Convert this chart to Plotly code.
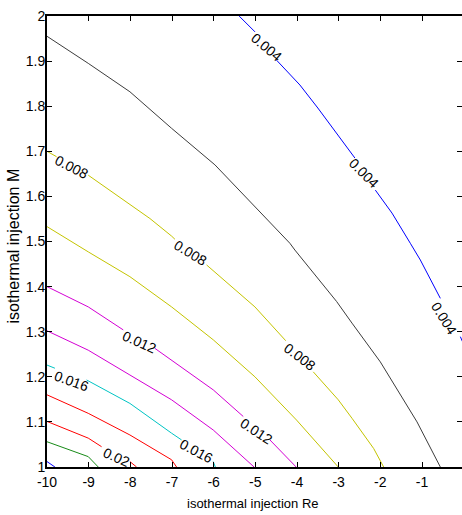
import plotly.graph_objects as go

# ---- data ----
# contour level values
levels = [0.004, 0.006, 0.008, 0.010, 0.012, 0.014, 0.016, 0.018, 0.020, 0.022, 0.024]

# contour polylines (None = break where an inline label sits)
x_004 = [-5.39, -5.01, None, -4.49, -3.93, -3.50, -3.05, -2.61, None, -2.12, -1.72, -1.28, -1.04, -0.56, None, -0.08, 0.0]
y_004 = [2.000, 1.965, None, 1.902, 1.847, 1.796, 1.740, 1.685, None, 1.614, 1.563, 1.496, 1.459, 1.374, None, 1.289, 1.272]

x_006 = [-10.0, -9.01, -8.01, -7.01, -5.97, -5.01, -4.17, -4.05, -3.05, -2.68, -2.00, -1.12, -0.56]
y_006 = [1.955, 1.895, 1.832, 1.751, 1.670, 1.577, 1.496, 1.481, 1.367, 1.319, 1.233, 1.100, 1.000]

x_008 = [-10.0, -9.77, None, -9.01, -7.53, -7.01, -6.93, None, -6.17, -5.01, -4.27, None, -3.61, -3.01, -2.68, -2.16, -1.92]
y_008 = [1.700, 1.688, None, 1.647, 1.551, 1.512, 1.505, None, 1.448, 1.355, 1.280, None, 1.211, 1.149, 1.108, 1.041, 1.000]

x_010 = [-10.0, -9.29, -9.01, -8.01, -7.01, -6.01, -5.01, -4.01, -3.01]
y_010 = [1.533, 1.492, 1.477, 1.422, 1.355, 1.282, 1.200, 1.104, 1.000]

x_012 = [-10.0, -9.01, -8.17, None, -7.41, -7.01, -6.01, -5.29, None, -4.65, -4.02]
y_012 = [1.400, 1.355, 1.304, None, 1.263, 1.237, 1.171, 1.112, None, 1.060, 1.000]

x_014 = [-10.0, -9.01, -8.01, -7.01, -6.01, -5.03]
y_014 = [1.302, 1.259, 1.204, 1.149, 1.082, 1.000]

x_016 = [-10.0, -9.81, None, -9.05, -8.01, -7.01, -6.77, None, -6.01, -5.96]
y_016 = [1.226, 1.219, None, 1.193, 1.141, 1.075, 1.060, None, 1.012, 1.000]

x_018 = [-10.0, -9.01, -8.01, -7.01, -6.89]
y_018 = [1.160, 1.119, 1.071, 1.016, 1.000]

x_020 = [-10.0, -9.01, -8.69, None, -8.01, -7.85]
y_020 = [1.101, 1.064, 1.045, None, 1.012, 1.000]

x_022 = [-10.0, -9.01, -8.77]
y_022 = [1.056, 1.023, 1.000]

x_024 = [-10.0, -9.81]
y_024 = [1.012, 1.000]

# inline contour labels
label_text = ["0.004", "0.004", "0.004", "0.008", "0.008", "0.008",
              "0.012", "0.012", "0.016", "0.016", "0.02"]
label_x = [-4.74, -2.40, -0.47, -9.41, -6.55, -3.93, -7.78, -4.98, -9.41, -6.42, -8.34]
label_y = [1.931, 1.651, 1.331, 1.665, 1.475, 1.243, 1.278, 1.080, 1.191, 1.036, 1.023]
label_angle = [40, 45, 58, 27, 31, 37, 24, 33, 20, 28, 24]

# axis ticks
x_tickvals = [-10, -9, -8, -7, -6, -5, -4, -3, -2, -1]
x_ticktext = ["-10", "-9", "-8", "-7", "-6", "-5", "-4", "-3", "-2", "-1"]
y_tickvals = [1.0, 1.1, 1.2, 1.3, 1.4, 1.5, 1.6, 1.7, 1.8, 1.9, 2.0]
y_ticktext = ["1", "1.1", "1.2", "1.3", "1.4", "1.5", "1.6", "1.7", "1.8", "1.9", "2"]

x_title = "isothermal injection Re"
y_title = "isothermal injection M"

# ---- styling ----
line_x = [x_004, x_006, x_008, x_010, x_012, x_014, x_016, x_018, x_020, x_022, x_024]
line_y = [y_004, y_006, y_008, y_010, y_012, y_014, y_016, y_018, y_020, y_022, y_024]
line_colors = ["#0000ff", "#3c3c3c", "#c4c400", "#c4c400", "#d400d4", "#d400d4",
               "#00c4c4", "#ff0000", "#ff0000", "#178a17", "#0000ff"]

FONT = "Liberation Sans, Arial, sans-serif"

fig = go.Figure()
for lv, xs, ys, c in zip(levels, line_x, line_y, line_colors):
    fig.add_trace(go.Scatter(x=xs, y=ys, mode="lines", name=f"{lv:.3f}",
                             line=dict(color=c, width=1), connectgaps=False,
                             hoverinfo="skip", showlegend=False))

# invisible trace for right-side ticks axis
fig.add_trace(go.Scatter(x=[None], y=[None], yaxis="y2", showlegend=False, hoverinfo="skip"))

for t, xx, yy, a in zip(label_text, label_x, label_y, label_angle):
    fig.add_annotation(x=xx, y=yy, xref="x", yref="y", text=t, textangle=a,
                       showarrow=False, font=dict(family=FONT, size=14, color="black"),
                       xanchor="center", yanchor="middle")

fig.add_annotation(x=0.5, y=0, xref="paper", yref="paper", text=x_title, showarrow=False,
                   xanchor="center", yanchor="middle", yshift=-36, xshift=-2,
                   font=dict(family=FONT, size=13, color="black"))
fig.add_annotation(x=0, y=0.5, xref="paper", yref="paper", text=y_title, showarrow=False,
                   textangle=-90, xanchor="center", yanchor="middle", xshift=-34, yshift=-5,
                   font=dict(family=FONT, size=16, color="black"))

fig.update_layout(
    width=462, height=515,
    margin=dict(l=47, r=0, t=16, b=48),
    paper_bgcolor="white", plot_bgcolor="white",
    xaxis=dict(range=[-10, -0.04], tickvals=x_tickvals, ticktext=x_ticktext,
               ticks="inside", ticklen=5, tickwidth=1, tickcolor="black",
               showline=True, linewidth=2, linecolor="black", mirror="ticks",
               showgrid=False, zeroline=False, ticklabelstandoff=1,
               tickfont=dict(family=FONT, size=14, color="black")),
    yaxis=dict(range=[1, 2], tickvals=y_tickvals, ticktext=y_ticktext,
               ticks="inside", ticklen=5, tickwidth=1, tickcolor="black",
               showline=True, linewidth=2, linecolor="black",
               showgrid=False, zeroline=False, ticklabelstandoff=-3,
               tickfont=dict(family=FONT, size=14, color="black")),
    yaxis2=dict(range=[1, 2], overlaying="y", side="right", tickvals=y_tickvals,
                showticklabels=False, ticks="inside", ticklen=5, tickwidth=1,
                tickcolor="black", showline=False, showgrid=False, zeroline=False),
)

fig.write_html("out.html")
